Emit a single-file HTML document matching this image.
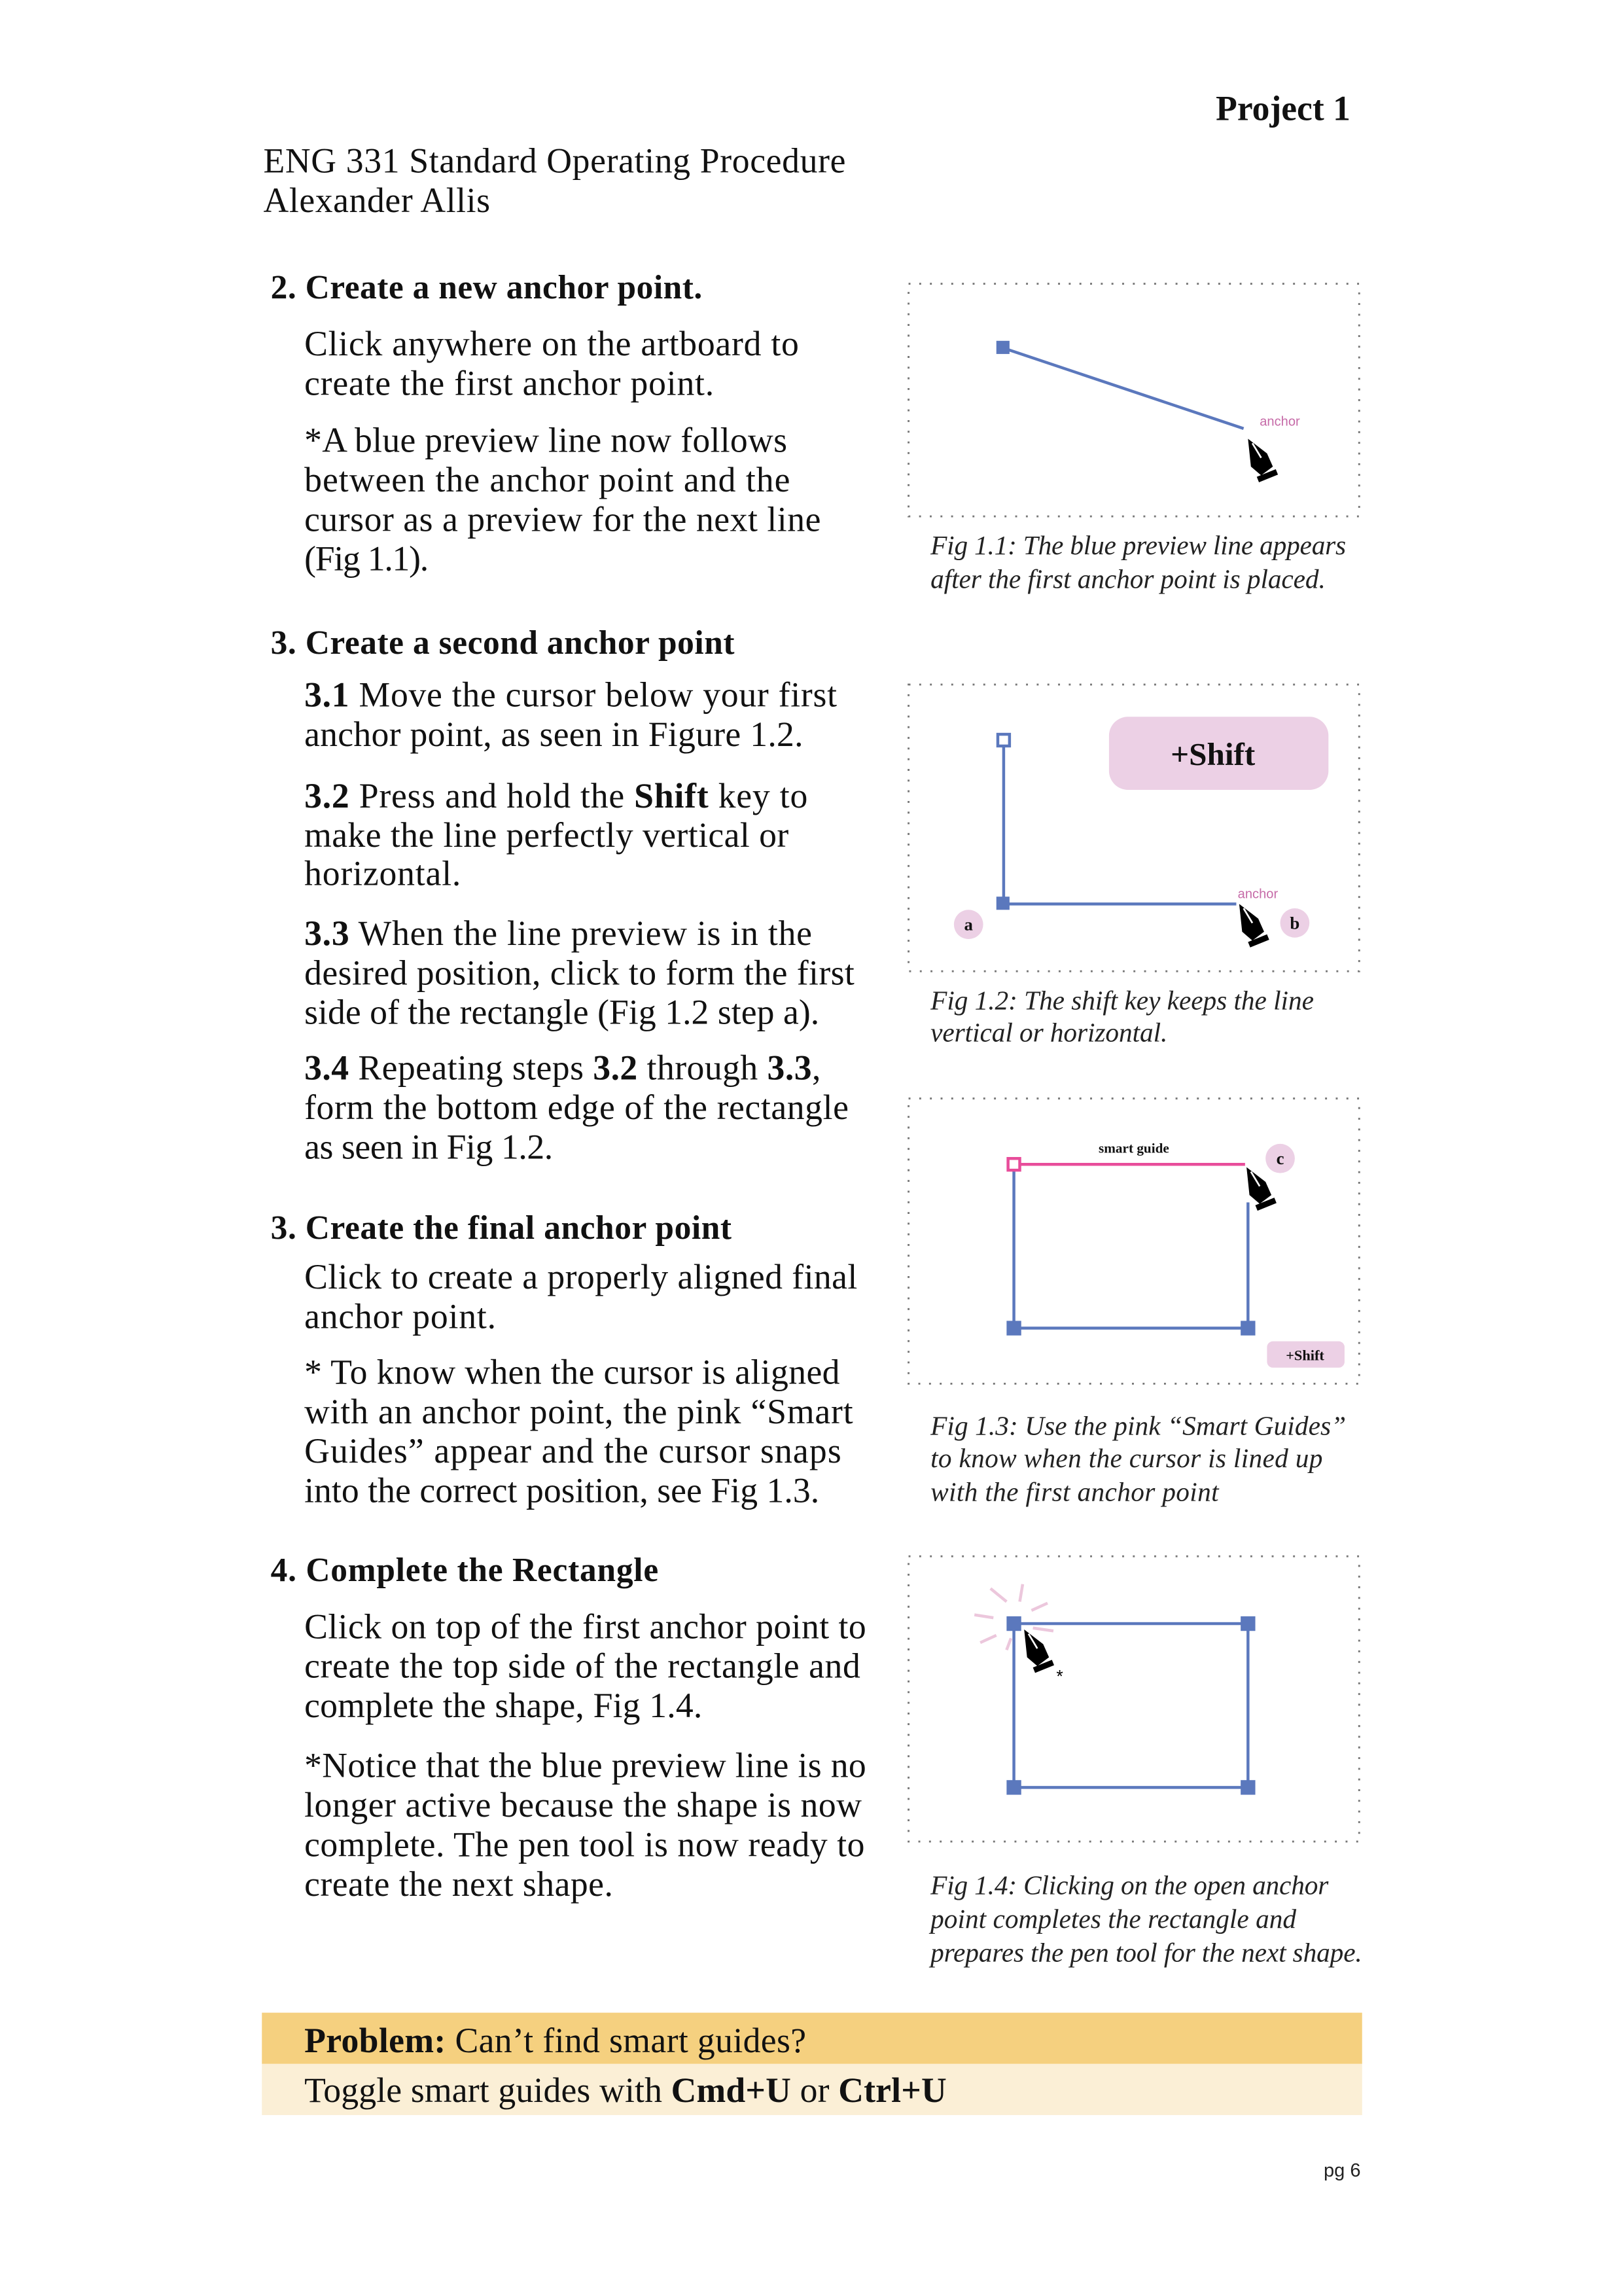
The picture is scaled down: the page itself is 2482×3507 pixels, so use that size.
<!DOCTYPE html>
<html><head><meta charset="utf-8"><style>
html,body{margin:0;padding:0;background:#fff}
svg{display:block}
.b{font-family:"Liberation Serif",serif;font-size:24px;fill:#111}
.h{font-family:"Liberation Serif",serif;font-size:23px;font-weight:bold;fill:#111}
.c{font-family:"Liberation Serif",serif;font-size:18.5px;font-style:italic;fill:#222}
.box{fill:none;stroke:#777;stroke-width:1.3;stroke-dasharray:1.3 6}
.bl{stroke:#5b78bd;stroke-width:2;fill:none}
</style></head><body>
<svg width="2482" height="3507" viewBox="0 0 1110 1569" preserveAspectRatio="none" xmlns="http://www.w3.org/2000/svg">
<defs>
<g id="pen"><path d="M0,0 L13,10 L17,19 L9,25 L2,19 Z" fill="#000"/><path d="M3,3 L9,13" stroke="#fff" stroke-width="1.2"/><rect x="6" y="26" width="14" height="4" transform="rotate(-22 6 26)" fill="#000"/></g>
</defs>
<text x="831" y="82" textLength="92" lengthAdjust="spacingAndGlyphs" class="h" style="font-size:24px">Project 1</text>
<text x="180" y="118" textLength="398" class="b">ENG 331 Standard Operating Procedure</text>
<text x="180" y="145" textLength="155" class="b">Alexander Allis</text>

<g>
<text x="185" y="204" textLength="295" class="h">2. Create a new anchor point.</text>
<text x="208" y="243" textLength="338" class="b">Click anywhere on the artboard to</text>
<text x="208" y="270" textLength="280" class="b">create  the first anchor point.</text>
<text x="208" y="309" textLength="330" class="b">*A blue preview line now follows</text>
<text x="208" y="336" textLength="332" class="b">between the anchor point and the</text>
<text x="208" y="363" textLength="353" class="b">cursor as a preview for the next line</text>
<text x="208" y="390" textLength="85" class="b">(Fig 1.1).</text>
</g>
<g>
<text x="185" y="447" textLength="317" class="h">3. Create a second anchor point</text>
<text x="208" y="483" textLength="364" class="b"><tspan font-weight="bold">3.1</tspan>  Move the cursor below your first</text>
<text x="208" y="510" textLength="341" class="b">anchor point, as seen in Figure 1.2.</text>
<text x="208" y="552" textLength="344" class="b"><tspan font-weight="bold">3.2</tspan>  Press and hold the <tspan font-weight="bold">Shift</tspan> key to</text>
<text x="208" y="579" textLength="331" class="b">make the line perfectly vertical or</text>
<text x="208" y="605" textLength="107" class="b">horizontal.</text>
<text x="208" y="646" textLength="347" class="b"><tspan font-weight="bold">3.3</tspan>  When the line preview is in the</text>
<text x="208" y="673" textLength="376" class="b">desired position, click to form the first</text>
<text x="208" y="700" textLength="352" class="b">side of the rectangle (Fig 1.2 step a).</text>
<text x="208" y="738" textLength="353" class="b"><tspan font-weight="bold">3.4</tspan>  Repeating steps <tspan font-weight="bold">3.2</tspan> through <tspan font-weight="bold">3.3</tspan>,</text>
<text x="208" y="765" textLength="372" class="b">form the bottom edge of the rectangle</text>
<text x="208" y="792" textLength="170" class="b">as seen in Fig 1.2.</text>
</g>
<g>
<text x="185" y="847" textLength="315" class="h">3. Create the final anchor point</text>
<text x="208" y="881" textLength="378" class="b">Click to create a properly aligned final</text>
<text x="208" y="908" textLength="131" class="b">anchor point.</text>
<text x="208" y="946" textLength="366" class="b">* To know when the cursor is aligned</text>
<text x="208" y="973" textLength="375" class="b">with an anchor point, the pink “Smart</text>
<text x="208" y="1000" textLength="367" class="b">Guides” appear and the cursor snaps</text>
<text x="208" y="1027" textLength="352" class="b">into the correct position, see Fig 1.3.</text>
</g>
<g>
<text x="185" y="1081" textLength="265" class="h">4. Complete the Rectangle</text>
<text x="208" y="1120" textLength="384" class="b">Click on top of the first anchor point to</text>
<text x="208" y="1147" textLength="380" class="b">create the top side of the rectangle and</text>
<text x="208" y="1174" textLength="272" class="b">complete the shape, Fig 1.4.</text>
<text x="208" y="1215" textLength="384" class="b">*Notice that the blue preview line is no</text>
<text x="208" y="1242" textLength="381" class="b">longer active because the shape is now</text>
<text x="208" y="1269" textLength="383" class="b">complete. The pen tool is now ready to</text>
<text x="208" y="1296" textLength="211" class="b">create the next shape.</text>
</g>

<g>
<rect class="box" x="621" y="194" width="308" height="159"/>
<line class="bl" x1="686" y1="238" x2="850" y2="293"/>
<rect x="681" y="233" width="9" height="9" fill="#5b78bd"/>
<text x="861" y="291" font-family="Liberation Sans,sans-serif" font-size="9" fill="#c66ba8">anchor</text>
<use href="#pen" x="853" y="300"/>
<text class="c" x="636" y="379" textLength="284">Fig 1.1: The blue preview line appears</text>
<text class="c" x="636" y="402" textLength="270">after the first anchor point is placed.</text>
</g>
<g>
<rect class="box" x="621" y="468" width="308" height="196"/>
<line class="bl" x1="686" y1="506" x2="686" y2="618"/>
<line class="bl" x1="686" y1="618" x2="845" y2="618"/>
<rect x="682" y="502" width="8" height="8" fill="#fff" stroke="#5b78bd" stroke-width="2"/>
<rect x="681" y="613" width="9" height="9" fill="#5b78bd"/>
<rect x="758" y="490" width="150" height="50" rx="13" fill="#ecd0e5"/>
<text x="829" y="523" text-anchor="middle" class="h" style="font-size:22px">+Shift</text>
<text x="846" y="614" font-family="Liberation Sans,sans-serif" font-size="9" fill="#c66ba8">anchor</text>
<circle cx="662" cy="632" r="10" fill="#ecd0e5"/><text x="662" y="636" text-anchor="middle" class="h" style="font-size:12px">a</text>
<circle cx="885" cy="631" r="10" fill="#ecd0e5"/><text x="885" y="635" text-anchor="middle" class="h" style="font-size:12px">b</text>
<use href="#pen" x="847" y="618"/>
<text class="c" x="636" y="690" textLength="262">Fig 1.2: The shift key keeps the line</text>
<text class="c" x="636" y="712" textLength="162">vertical or horizontal.</text>
</g>
<g>
<rect class="box" x="621" y="751" width="308" height="195"/>
<line x1="693" y1="796" x2="851" y2="796" stroke="#e84c9a" stroke-width="2"/>
<line class="bl" x1="693" y1="800" x2="693" y2="908"/>
<line class="bl" x1="693" y1="908" x2="853" y2="908"/>
<line class="bl" x1="853" y1="822" x2="853" y2="908"/>
<rect x="689" y="792" width="8" height="8" fill="#fff" stroke="#e84c9a" stroke-width="2"/>
<rect x="688" y="903" width="10" height="10" fill="#5b78bd"/>
<rect x="848" y="903" width="10" height="10" fill="#5b78bd"/>
<text x="775" y="788" text-anchor="middle" class="h" style="font-size:9.5px">smart guide</text>
<circle cx="875" cy="792" r="10" fill="#ecd0e5"/><text x="875" y="796" text-anchor="middle" class="h" style="font-size:12px">c</text>
<use href="#pen" x="852" y="798"/>
<rect x="866" y="917" width="53" height="18" rx="4" fill="#ecd0e5"/>
<text x="892" y="930" text-anchor="middle" class="h" style="font-size:10px">+Shift</text>
<text class="c" x="636" y="981" textLength="284">Fig 1.3: Use the pink “Smart Guides”</text>
<text class="c" x="636" y="1003" textLength="268">to know when the cursor is lined up</text>
<text class="c" x="636" y="1026" textLength="197">with the first anchor point</text>
</g>
<g>
<rect class="box" x="621" y="1064" width="308" height="195"/>
<rect class="bl" x="693" y="1110" width="160" height="112"/>
<rect x="688" y="1105" width="10" height="10" fill="#5b78bd"/>
<rect x="848" y="1105" width="10" height="10" fill="#5b78bd"/>
<rect x="688" y="1217" width="10" height="10" fill="#5b78bd"/>
<rect x="848" y="1217" width="10" height="10" fill="#5b78bd"/>
<g stroke="#ecc7dc" stroke-width="2">
<line x1="677" y1="1086" x2="688" y2="1095"/><line x1="699" y1="1083" x2="697" y2="1095"/>
<line x1="705" y1="1101" x2="716" y2="1096"/><line x1="666" y1="1104" x2="679" y2="1106"/>
<line x1="670" y1="1123" x2="681" y2="1118"/><line x1="688" y1="1128" x2="691" y2="1120"/>
<line x1="706" y1="1113" x2="720" y2="1115"/>
</g>
<use href="#pen" x="700" y="1114"/>
<text x="722" y="1150" font-family="Liberation Sans,sans-serif" font-size="12" fill="#000">*</text>
<text class="c" x="636" y="1295" textLength="272">Fig 1.4: Clicking on the open anchor</text>
<text class="c" x="636" y="1318" textLength="250">point completes the rectangle and</text>
<text class="c" x="636" y="1341" textLength="295">prepares the pen tool for the next shape.</text>
</g>

<g>
<rect x="179" y="1376" width="752" height="35" fill="#f5d07f"/>
<rect x="179" y="1411" width="752" height="35" fill="#fbefd6"/>
<text x="208" y="1403" textLength="343" class="b"><tspan font-weight="bold">Problem:</tspan> Can’t find smart guides?</text>
<text x="208" y="1437" textLength="439" class="b">Toggle smart guides with <tspan font-weight="bold">Cmd+U</tspan> or <tspan font-weight="bold">Ctrl+U</tspan></text>
</g>
<text x="930" y="1488" text-anchor="end" font-family="Liberation Sans,sans-serif" font-size="13" fill="#222">pg 6</text>
</svg>
</body></html>
